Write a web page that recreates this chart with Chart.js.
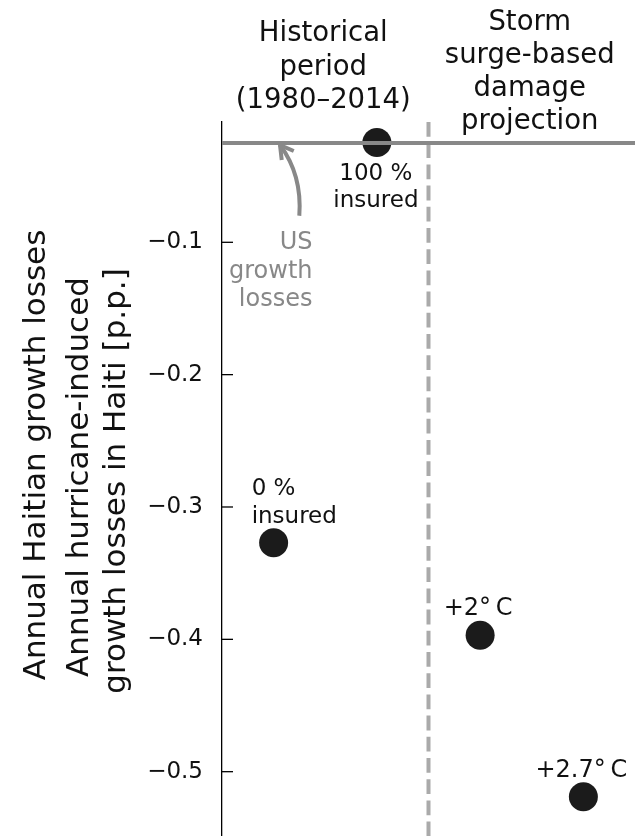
<!DOCTYPE html>
<html>
<head>
<meta charset="utf-8">
<script src="https://cdn.jsdelivr.net/npm/chart.js@4/dist/chart.umd.min.js"></script>
<style>
  html, body { margin: 0; padding: 0; background: #fff; }
  canvas { display: block; }
</style>
</head>
<body>
<canvas id="chart" width="643" height="836"></canvas>
<script>
// Annual hurricane-induced growth losses in Haiti, percentage points
const scenarios = ['0 % insured', '100 % insured', '+2°C', '+2.7°C'];
const scenarioLabelLines = [['0 %', 'insured'], ['100 %', 'insured'], ['+2°\u2009C'], ['+2.7°\u2009C']];
const scenarioX = [0, 1, 2, 3];
const growthLosses = [-0.327, -0.0245, -0.397, -0.519];

// US reference level and the split between historical and projected results
const usGrowthLoss = -0.025;
const periodSplit = 1.5;

// Axes
const yTicks = [-0.1, -0.2, -0.3, -0.4, -0.5];
const yRange = [-0.5486, -0.0091];
const xRange = [-0.5, 3.5];

// Texts
const panelTitles = [['Historical', 'period', '(1980–2014)'], ['Storm', 'surge-based', 'damage', 'projection']];
const usLabel = ['US', 'growth', 'losses'];
const yTitleLines = ['Annual Haitian growth losses', 'Annual hurricane-induced', 'growth losses in Haiti [p.p.]'];

const FONT = "'DejaVu Sans', sans-serif";
const INK = '#111';
const GREY = '#888';

const fmtTick = v => (v < 0 ? '\u2212' : '') + Math.abs(v).toFixed(1);

const annotations = {
  id: 'annotations',
  afterDraw(chart) {
    const { ctx, chartArea: a, scales: { x, y } } = chart;
    ctx.save();

    // inward tick marks on the y axis
    ctx.strokeStyle = '#000';
    ctx.lineWidth = 1.3;
    yTicks.forEach(v => {
      const py = y.getPixelForValue(v);
      ctx.beginPath();
      ctx.moveTo(a.left, py);
      ctx.lineTo(a.left + 11, py);
      ctx.stroke();
    });

    // panel headings
    ctx.fillStyle = INK;
    ctx.textAlign = 'center';
    ctx.textBaseline = 'alphabetic';
    ctx.font = `27.5px ${FONT}`;
    const histX = x.getPixelForValue((xRange[0] + periodSplit) / 2) - 2;
    panelTitles[0].forEach((t, i) => ctx.fillText(t, histX, 41 + i * 33.5));
    const projX = x.getPixelForValue((periodSplit + xRange[1]) / 2) - 2;
    panelTitles[1].forEach((t, i) => ctx.fillText(t, projX, 30 + i * 33));

    // point labels
    const px = i => x.getPixelForValue(scenarioX[i]);
    const py = i => y.getPixelForValue(growthLosses[i]);
    ctx.font = `23px ${FONT}`;
    ctx.textAlign = 'left';
    scenarioLabelLines[0].forEach((t, k) => ctx.fillText(t, px(0) - 22, py(0) - 48 + k * 28));
    ctx.textAlign = 'center';
    scenarioLabelLines[1].forEach((t, k) => ctx.fillText(t, px(1) - 1, py(1) + 38 + k * 26.5));
    ctx.font = `24px ${FONT}`;
    ctx.fillText(scenarioLabelLines[2][0], px(2) - 2, py(2) - 20);
    ctx.fillText(scenarioLabelLines[3][0], px(3) - 2, py(3) - 20);

    // US growth losses label and arrow
    const usY = y.getPixelForValue(usGrowthLoss);
    ctx.fillStyle = GREY;
    ctx.textAlign = 'right';
    ctx.font = `24px ${FONT}`;
    usLabel.forEach((t, k) => ctx.fillText(t, a.left + 90.5, usY + 106 + k * 28.7));

    const tail = { x: a.left + 77.3, y: usY + 72.7 };
    const tip = { x: a.left + 58, y: usY + 2 };
    const ctrl = { x: a.left + 80.3, y: usY + 32 };
    ctx.strokeStyle = GREY;
    ctx.lineWidth = 4;
    ctx.lineJoin = 'round';
    ctx.beginPath();
    ctx.moveTo(tail.x, tail.y);
    ctx.quadraticCurveTo(ctrl.x, ctrl.y, tip.x, tip.y);
    ctx.stroke();
    const back = Math.atan2(ctrl.y - tip.y, ctrl.x - tip.x);
    const wing = Math.PI / 6, len = 15;
    ctx.beginPath();
    ctx.moveTo(tip.x + len * Math.cos(back - wing), tip.y + len * Math.sin(back - wing));
    ctx.lineTo(tip.x, tip.y);
    ctx.lineTo(tip.x + len * Math.cos(back + wing), tip.y + len * Math.sin(back + wing));
    ctx.stroke();

    // y axis titles
    ctx.fillStyle = INK;
    ctx.textAlign = 'center';
    ctx.font = `31px ${FONT}`;
    const titlePos = [[45, 455], [88.3, 477], [125, 481]];
    yTitleLines.forEach((t, k) => {
      ctx.save();
      ctx.translate(titlePos[k][0], titlePos[k][1]);
      ctx.rotate(-Math.PI / 2);
      ctx.fillText(t, 0, 0);
      ctx.restore();
    });

    ctx.restore();
  }
};

new Chart(document.getElementById('chart'), {
  type: 'scatter',
  data: {
    datasets: [
      {
        label: 'US growth losses',
        type: 'line',
        showLine: true,
        data: [{ x: xRange[0], y: usGrowthLoss }, { x: xRange[1], y: usGrowthLoss }],
        borderColor: GREY,
        borderWidth: 4,
        pointRadius: 0,
        order: 0
      },
      {
        label: 'Historical / projection split',
        type: 'line',
        showLine: true,
        data: [{ x: periodSplit, y: yRange[1] }, { x: periodSplit, y: yRange[0] }],
        borderColor: '#aaa',
        borderWidth: 4,
        borderDash: [14.8, 6.4],
        pointRadius: 0,
        order: 1
      },
      {
        label: 'Haitian growth losses',
        data: scenarioX.map((v, i) => ({ x: v, y: growthLosses[i] })),
        backgroundColor: '#1b1b1b',
        borderWidth: 0,
        pointRadius: 14.5,
        pointHoverRadius: 14.5,
        order: 2
      }
    ]
  },
  options: {
    responsive: false,
    animation: false,
    events: [],
    layout: { autoPadding: false, padding: { top: 122, right: 8, bottom: 0, left: 0 } },
    plugins: { legend: { display: false }, tooltip: { enabled: false } },
    scales: {
      x: { type: 'linear', display: false, min: xRange[0], max: xRange[1] },
      y: {
        type: 'linear',
        min: yRange[0],
        max: yRange[1],
        afterBuildTicks: s => { s.ticks = yTicks.map(v => ({ value: v })); },
        afterFit: s => { s.width = 222; s.paddingTop = 0; s.paddingBottom = 0; },
        grid: { display: true, drawOnChartArea: false, drawTicks: false },
        border: { display: true, color: '#000', width: 1.3 },
        ticks: {
          padding: 19,
          color: INK,
          font: { family: FONT, size: 23 },
          callback: v => fmtTick(v)
        }
      }
    }
  },
  plugins: [annotations]
});
</script>
</body>
</html>
